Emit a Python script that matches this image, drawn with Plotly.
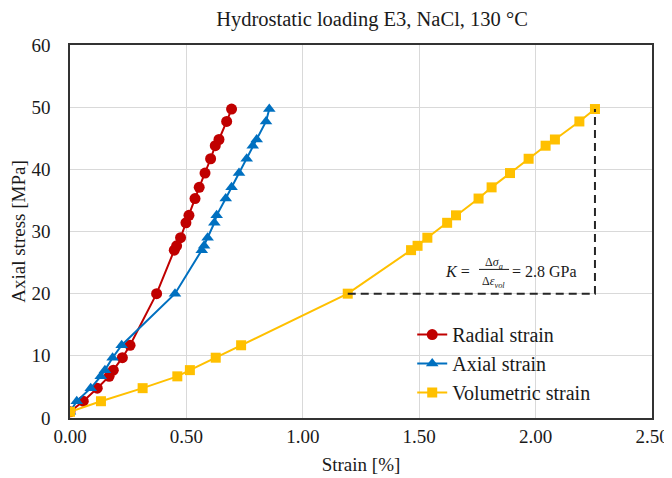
import plotly.graph_objects as go

# ---- data ----
stress = [1, 2.7, 4.8, 6.7, 7.7, 9.7, 11.7, 20, 27.0, 27.7, 29.0, 31.4, 32.6,
          35.3, 37.1, 39.4, 41.7, 43.8, 44.8, 47.7, 49.7]
radial = [0, 0.057, 0.117, 0.168, 0.186, 0.225, 0.258, 0.372, 0.448, 0.458, 0.475,
          0.498, 0.511, 0.537, 0.555, 0.580, 0.604, 0.624, 0.640, 0.673, 0.694]
axial = [0, 0.029, 0.089, 0.132, 0.150, 0.183, 0.222, 0.451, 0.566, 0.576, 0.591,
         0.620, 0.630, 0.669, 0.694, 0.726, 0.759, 0.785, 0.802, 0.842, 0.856]
volumetric = [0, 0.133, 0.312, 0.461, 0.515, 0.626, 0.735, 1.193, 1.465, 1.493, 1.535,
              1.620, 1.658, 1.755, 1.811, 1.890, 1.970, 2.043, 2.083, 2.188, 2.255]
x_ticks = [0, 0.5, 1.0, 1.5, 2.0, 2.5]
y_ticks = [0, 10, 20, 30, 40, 50, 60]

FONT = "Liberation Serif, Times New Roman, serif"
TXT = "#1a1a1a"

# page has an 8px body margin, so the figure is sized/offset to compensate
W, H = 664, 470

fig = go.Figure()

fig.add_trace(go.Scatter(x=radial, y=stress, name="Radial strain", mode="lines+markers",
                         line=dict(color="#C00000", width=2),
                         marker=dict(symbol="circle", size=11, color="#C00000")))
fig.add_trace(go.Scatter(x=axial, y=stress, name="Axial strain", mode="lines+markers",
                         line=dict(color="#0070C0", width=2),
                         marker=dict(symbol="triangle-up", size=11, color="#0070C0")))
fig.add_trace(go.Scatter(x=volumetric, y=stress, name="Volumetric strain", mode="lines+markers",
                         line=dict(color="#FFC000", width=2),
                         marker=dict(symbol="square", size=10, color="#FFC000")))

# slope triangle (dashed) built from the volumetric data
i0, i1 = 7, len(volumetric) - 1
fig.add_trace(go.Scatter(x=[volumetric[i0], volumetric[i1], volumetric[i1]],
                         y=[stress[i0], stress[i0], stress[i1]],
                         mode="lines", showlegend=False, hoverinfo="skip",
                         line=dict(color="#262626", width=2, dash="8px,5px")))

# formula annotation
fsz = 16
fig.add_annotation(x=1.602, y=23.5, xref="x", yref="y", xanchor="left", yanchor="middle",
                   text="<i>K</i> =", showarrow=False, font=dict(family=FONT, size=fsz, color=TXT))
fig.add_annotation(x=1.821, y=24.9, xref="x", yref="y", xanchor="center", yanchor="middle",
                   text="Δ<i>σ<sub>a</sub></i>", showarrow=False, font=dict(family=FONT, size=12, color=TXT))
fig.add_annotation(x=1.821, y=21.8, xref="x", yref="y", xanchor="center", yanchor="middle",
                   text="Δ<i>ε<sub>vol</sub></i>", showarrow=False, font=dict(family=FONT, size=12, color=TXT))
fig.add_shape(type="line", xref="x", yref="y", x0=1.757, x1=1.886, y0=23.9, y1=23.9,
              line=dict(color=TXT, width=1))
fig.add_annotation(x=1.89, y=23.5, xref="x", yref="y", xanchor="left", yanchor="middle",
                   text="= 2.8 GPa", showarrow=False, font=dict(family=FONT, size=fsz, color=TXT))

fig.update_layout(
    template="none",
    width=W, height=H,
    margin=dict(l=62, r=20, t=37, b=60, autoexpand=False),
    paper_bgcolor="white", plot_bgcolor="white",
    font=dict(family=FONT, size=19, color=TXT),
    title=dict(text="Hydrostatic loading E3, NaCl, 130 °C", x=364 / W, xanchor="center",
               y=1 - 11 / H, yanchor="middle", font=dict(size=20.5, color=TXT)),
    legend=dict(x=0.588, y=0.276, xanchor="left", yanchor="top",
                bgcolor="rgba(0,0,0,0)", font=dict(size=20, color=TXT),
                itemwidth=30, tracegroupgap=0),
    showlegend=True,
)

fig.update_xaxes(range=[0, 2.5], tickvals=x_ticks, ticktext=[f"{v:.2f}" for v in x_ticks],
                 automargin=False,
                 showgrid=True, gridcolor="#d9d9d9", gridwidth=1,
                 showline=True, linecolor="#333333", linewidth=1.5, mirror=True,
                 zeroline=False, ticks="", tickfont=dict(size=19),
                 title=dict(text="Strain [%]", font=dict(size=19), standoff=12))
fig.update_yaxes(range=[0, 60], tickvals=y_ticks, automargin=False,
                 showgrid=True, gridcolor="#d9d9d9", gridwidth=1,
                 showline=True, linecolor="#333333", linewidth=1.5, mirror=True,
                 zeroline=False, ticks="outside", ticklen=14, tickcolor="rgba(0,0,0,0)",
                 tickfont=dict(size=19),
                 title=dict(text="Axial stress [MPa]", font=dict(size=19), standoff=3))

fig.write_html("out.html")
